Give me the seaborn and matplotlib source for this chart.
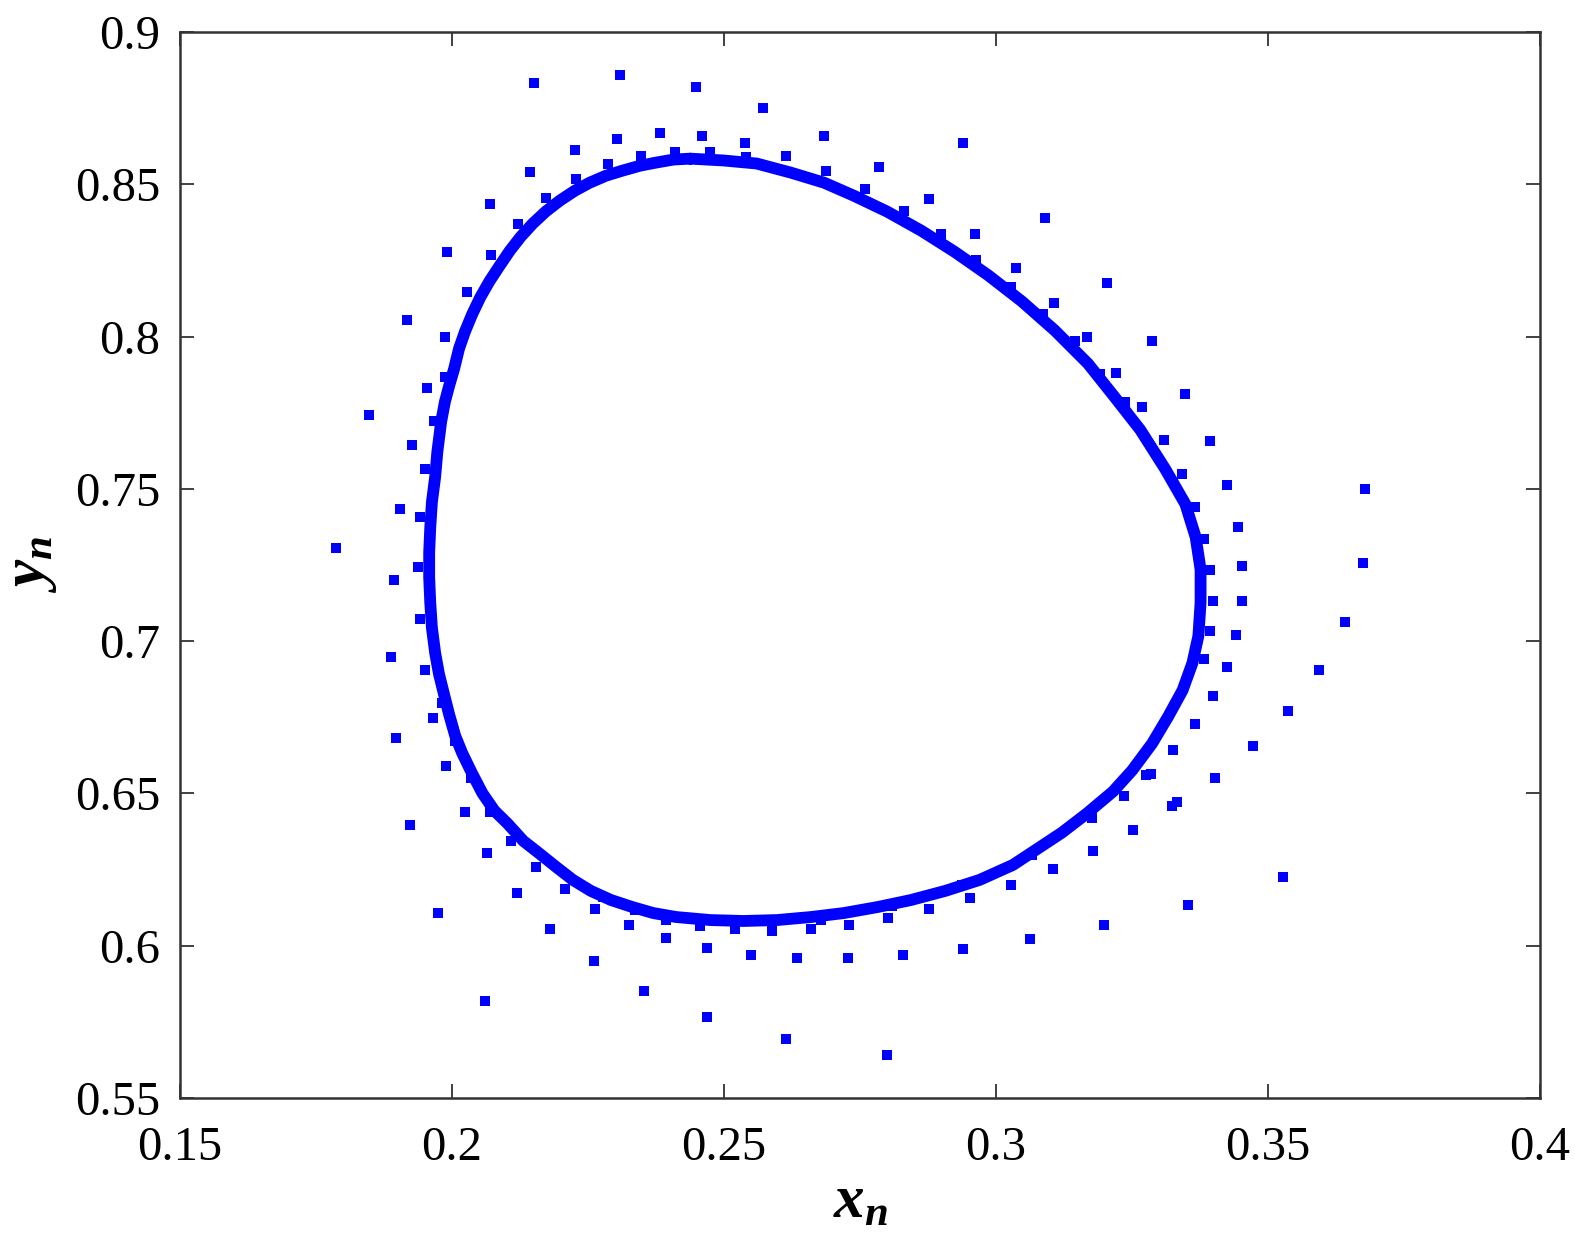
import numpy as np
import pandas as pd
import matplotlib
matplotlib.use("Agg")
import matplotlib.pyplot as plt
import seaborn as sns

# closed invariant curve, read clockwise from the top
curve_x = [0.2438, 0.2499, 0.2560, 0.2623, 0.2684, 0.2739, 0.2800, 0.2863, 0.2924, 0.2985,
           0.3047, 0.3108, 0.3169, 0.3219, 0.3265, 0.3311, 0.3348, 0.3367, 0.3376, 0.3376,
           0.3372, 0.3361, 0.3343, 0.3317, 0.3287, 0.3250, 0.3215, 0.3167, 0.3121, 0.3071,
           0.3031, 0.2970, 0.2907, 0.2844, 0.2783, 0.2720, 0.2660, 0.2597, 0.2536, 0.2475,
           0.2412, 0.2370, 0.2331, 0.2292, 0.2255, 0.2222, 0.2191, 0.2161, 0.2131, 0.2102,
           0.2078, 0.2056, 0.2037, 0.2019, 0.2006, 0.1995, 0.1986, 0.1976, 0.1969, 0.1963,
           0.1960, 0.1958, 0.1958, 0.1960, 0.1963, 0.1969, 0.1973, 0.1980, 0.1987, 0.1995,
           0.2004, 0.2013, 0.2024, 0.2037, 0.2052, 0.2069, 0.2087, 0.2106, 0.2126, 0.2148,
           0.2172, 0.2198, 0.2226, 0.2253, 0.2283, 0.2314, 0.2346, 0.2375, 0.2407, 0.2438]
curve_y = [0.8584, 0.8578, 0.8568, 0.8538, 0.8505, 0.8462, 0.8410, 0.8347, 0.8278, 0.8202,
           0.8116, 0.8020, 0.7911, 0.7799, 0.7694, 0.7565, 0.7450, 0.7341, 0.7235, 0.7126,
           0.7017, 0.6928, 0.6839, 0.6754, 0.6664, 0.6575, 0.6506, 0.6434, 0.6371, 0.6312,
           0.6265, 0.6216, 0.6180, 0.6150, 0.6127, 0.6107, 0.6094, 0.6084, 0.6081, 0.6084,
           0.6094, 0.6107, 0.6127, 0.6150, 0.6180, 0.6216, 0.6259, 0.6302, 0.6344, 0.6401,
           0.6443, 0.6500, 0.6565, 0.6631, 0.6688, 0.6757, 0.6820, 0.6892, 0.6961, 0.7044,
           0.7126, 0.7209, 0.7291, 0.7374, 0.7456, 0.7539, 0.7621, 0.7720, 0.7786, 0.7840,
           0.7895, 0.7961, 0.8017, 0.8073, 0.8129, 0.8182, 0.8231, 0.8281, 0.8327, 0.8370,
           0.8410, 0.8446, 0.8479, 0.8505, 0.8528, 0.8545, 0.8561, 0.8571, 0.8581, 0.8584]

# transient iterates around the curve
pts_x = [0.2150, 0.2309, 0.2449, 0.2571, 0.2226, 0.2303, 0.2383, 0.2460, 0.2538, 0.2613,
         0.2144, 0.2069, 0.2122, 0.2172, 0.2227, 0.2287, 0.2348, 0.2410, 0.2475, 0.2540,
         0.1991, 0.2072, 0.2028, 0.1917, 0.1987, 0.1954, 0.1987, 0.1847, 0.1927,
         0.2684, 0.2940, 0.2687, 0.2785, 0.2759, 0.2877, 0.2831, 0.2961, 0.2898, 0.3090,
         0.2964, 0.3036, 0.3027, 0.3204, 0.3106, 0.3086, 0.3167, 0.3287, 0.3145, 0.3191,
         0.3221, 0.3348, 0.3237, 0.3269, 0.3308, 0.3394,
         0.3341, 0.3424, 0.3679, 0.3365, 0.3444, 0.3383, 0.3394, 0.3452, 0.3675, 0.3398,
         0.3452, 0.3642, 0.3394, 0.3441, 0.3383, 0.3424, 0.3594, 0.3398, 0.3365, 0.3537,
         0.3326, 0.3472, 0.3284, 0.3402, 0.3236, 0.3333,
         0.2800, 0.2634, 0.2728, 0.2829, 0.2940, 0.3062, 0.3199, 0.3352, 0.3527, 0.2660,
         0.2730, 0.2802, 0.2877, 0.2953, 0.3027, 0.3105, 0.3178, 0.3252, 0.3324, 0.3276,
         0.3177, 0.3066, 0.2938, 0.2809, 0.2678, 0.2589,
         0.1989, 0.1923, 0.2023, 0.2069, 0.2109, 0.2065, 0.2155, 0.1975, 0.2119, 0.2207,
         0.2181, 0.2263, 0.2261, 0.2325, 0.2394, 0.2394, 0.2353, 0.2061, 0.2456, 0.2468,
         0.2521, 0.2469, 0.2549, 0.2613, 0.2034, 0.2277, 0.2336,
         0.1951, 0.1904, 0.1941, 0.1786, 0.1938, 0.1893, 0.1941, 0.1888, 0.1951, 0.1982,
         0.1965, 0.1897, 0.2006, 0.1967]
pts_y = [0.8832, 0.8858, 0.8819, 0.8749, 0.8611, 0.8650, 0.8667, 0.8657, 0.8634, 0.8594,
         0.8541, 0.8436, 0.8370, 0.8456, 0.8518, 0.8568, 0.8594, 0.8607, 0.8607, 0.8591,
         0.8278, 0.8268, 0.8146, 0.8053, 0.7997, 0.7832, 0.7868, 0.7743, 0.7644,
         0.8657, 0.8634, 0.8545, 0.8558, 0.8485, 0.8452, 0.8413, 0.8337, 0.8337, 0.8390,
         0.8251, 0.8225, 0.8162, 0.8175, 0.8109, 0.8073, 0.7997, 0.7984, 0.7984, 0.7878,
         0.7881, 0.7812, 0.7786, 0.7770, 0.7661, 0.7657,
         0.7549, 0.7512, 0.7499, 0.7440, 0.7374, 0.7334, 0.7235, 0.7248, 0.7258, 0.7133,
         0.7130, 0.7064, 0.7034, 0.7021, 0.6942, 0.6915, 0.6905, 0.6820, 0.6727, 0.6770,
         0.6641, 0.6655, 0.6562, 0.6552, 0.6490, 0.6473,
         0.5642, 0.5959, 0.5959, 0.5968, 0.5988, 0.6021, 0.6067, 0.6133, 0.6226, 0.6054,
         0.6067, 0.6090, 0.6120, 0.6156, 0.6199, 0.6252, 0.6311, 0.6381, 0.6460, 0.6559,
         0.6420, 0.6298, 0.6199, 0.6130, 0.6084, 0.6048,
         0.6589, 0.6397, 0.6440, 0.6440, 0.6344, 0.6305, 0.6259, 0.6107, 0.6173, 0.6186,
         0.6054, 0.6120, 0.5949, 0.6067, 0.6024, 0.6084, 0.5850, 0.5817, 0.6064, 0.5991,
         0.6054, 0.5767, 0.5968, 0.5695, 0.6549, 0.6160, 0.6117,
         0.7565, 0.7433, 0.7407, 0.7304, 0.7242, 0.7199, 0.7074, 0.6948, 0.6905, 0.6796,
         0.6747, 0.6681, 0.6671, 0.7723]

x_ticks = [0.15, 0.2, 0.25, 0.3, 0.35, 0.4]
y_ticks = [0.55, 0.6, 0.65, 0.7, 0.75, 0.8, 0.85, 0.9]

curve = pd.DataFrame({"x": curve_x, "y": curve_y})
pts = pd.DataFrame({"x": pts_x, "y": pts_y})

sns.set_style("ticks")
plt.rcParams["font.family"] = ["Liberation Serif", "DejaVu Serif"]
plt.rcParams["mathtext.fontset"] = "custom"
plt.rcParams["mathtext.it"] = "Liberation Serif:italic:bold"
plt.rcParams["mathtext.rm"] = "Liberation Serif"
plt.rcParams["text.color"] = "black"
plt.rcParams["axes.labelcolor"] = "black"

fig = plt.figure(figsize=(15.75, 12.43), dpi=100)
ax = fig.add_axes([0.1143, 0.1167, 0.8635, 0.8576])

sns.lineplot(data=curve, x="x", y="y", sort=False, estimator=None,
             color="#0000ff", linewidth=8.5, ax=ax)
ax.lines[0].set_solid_joinstyle("round")
sns.scatterplot(data=pts, x="x", y="y", marker="s", s=50, color="#0000ff",
                linewidth=0, ax=ax)

ax.set_xlim(0.15, 0.4)
ax.set_ylim(0.55, 0.9)
ax.set_xticks(x_ticks)
ax.set_yticks(y_ticks)
ax.set_xticklabels([f"{t:g}" for t in x_ticks])
ax.set_yticklabels([f"{t:g}" for t in y_ticks])
ax.tick_params(direction="in", length=10, width=1.3, labelsize=35,
               top=True, right=True, color="#333333", labelcolor="black")
ax.tick_params(axis="x", pad=20)
ax.tick_params(axis="y", pad=14)
for s in ax.spines.values():
    s.set_linewidth(1.8)
    s.set_color("#333333")

ax.set_xlabel("$x_n$", fontsize=44, labelpad=4)
ax.set_ylabel("$y_n$", fontsize=44, labelpad=12)

fig.savefig("out.png", dpi=100)
